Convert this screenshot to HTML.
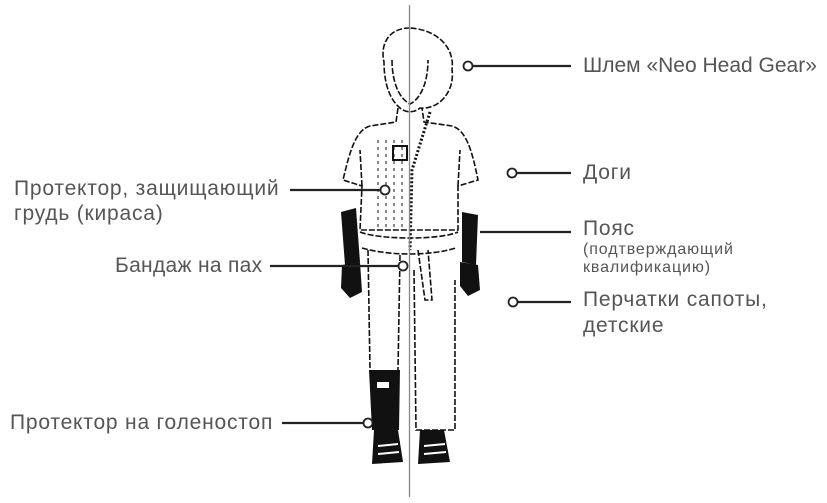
<!DOCTYPE html>
<html><head><meta charset="utf-8"><style>
html,body{margin:0;padding:0;background:#fff;}
body{width:827px;height:503px;position:relative;overflow:hidden;font-family:"Liberation Sans",sans-serif;color:#555;}
.t{position:absolute;font-size:21px;letter-spacing:0.8px;white-space:nowrap;line-height:24px;}
.s{position:absolute;font-size:16px;letter-spacing:0.9px;white-space:nowrap;line-height:18px;}
svg{position:absolute;left:0;top:0;}
</style></head><body>
<svg width="827" height="503" viewBox="0 0 827 503">
<g fill="none" stroke="#111" stroke-width="1.6" stroke-dasharray="6 2">
<path d="M410 28 C388 28 380 45 384 62 C384 80 388 98 400 108 C406 113 414 113 420 108 C440 110 455 90 452 70 C455 50 440 30 410 28 Z"/>
<path d="M392 60 C392 80 398 98 410 104 C422 98 428 80 428 60"/>
<path d="M398 108 L396 122 L370 126 C356 130 350 150 343 180 L362 186 L360 230 L458 230 L458 186 L478 180 C472 150 466 130 452 126 L424 122 L422 108"/>
<path d="M362 186 L360 150 M458 186 L460 150"/>
<path d="M378 140 L378 230 M386 140 L386 230 M394 140 L394 230 M402 140 L402 230" stroke-width="1" stroke-dasharray="3 4"/>
<path d="M430 112 L412 170 L410 250" stroke-width="3" stroke-dasharray="2 2"/>
<path d="M360 232 C380 240 440 240 458 232 M362 248 C390 256 430 256 456 248"/>
<path d="M418 250 L425 300 L432 300 L428 250"/>
<path d="M368 250 L370 370 M400 255 L398 370"/>
<path d="M414 270 L416 430 L455 430 L455 280"/>
</g>
<g fill="#111">
<rect x="393" y="146" width="14" height="14" fill="none" stroke="#111" stroke-width="2"/>
<path d="M341 212 L356 208 L360 262 L345 265 Z"/>
<path d="M462 212 L478 215 L476 265 L462 262 Z"/>
<path d="M342 265 L360 262 L362 292 L350 298 L341 288 Z"/>
<path d="M460 262 L478 265 L480 290 L468 296 L460 286 Z"/>
<path d="M369 370 L400 370 L399 430 L372 430 Z"/>
<rect x="377" y="382" width="12" height="6" fill="#fff"/>
<path d="M374 430 L398 430 L403 462 L372 464 Z"/>
<path d="M420 430 L444 430 L450 462 L418 464 Z"/>
</g>
<g fill="none" stroke="#fff" stroke-width="2">
<path d="M378 446 L398 444 M378 454 L399 452 M424 446 L445 444 M424 454 L446 452"/>
</g>
<line x1="409.5" y1="5" x2="409.5" y2="497" stroke="#888" stroke-width="1.3"/>
<g stroke="#222" stroke-width="2.2" fill="#fff">
<line x1="473" y1="66" x2="571" y2="66"/><circle cx="468" cy="66" r="4.5" stroke-width="1.8"/>
<line x1="517" y1="173" x2="571" y2="173"/><circle cx="512" cy="173" r="4.5" stroke-width="1.8"/>
<line x1="480" y1="232" x2="571" y2="232"/>
<line x1="518" y1="302" x2="571" y2="302"/><circle cx="513" cy="302" r="4.5" stroke-width="1.8"/>
<line x1="290" y1="190" x2="380" y2="190"/><circle cx="385" cy="190" r="4.5" stroke-width="1.8"/>
<line x1="270" y1="266" x2="398" y2="266"/><circle cx="403" cy="266" r="4.5" stroke-width="1.8"/>
<line x1="282" y1="423" x2="363" y2="423"/><circle cx="368" cy="423" r="4.5" stroke-width="1.8"/>
</g>
</svg>
<div class="t" style="left:583px;top:54px;letter-spacing:0">Шлем «Neo Head Gear»</div>
<div class="t" style="left:583px;top:161px">Доги</div>
<div class="t" style="left:583px;top:217px">Пояс</div>
<div class="s" style="left:583px;top:241px">(подтверждающий</div>
<div class="s" style="left:583px;top:259px">квалификацию)</div>
<div class="t" style="left:583px;top:288px">Перчатки сапоты,</div>
<div class="t" style="left:583px;top:314px">детские</div>
<div class="t" style="left:14px;top:177px">Протектор, защищающий</div>
<div class="t" style="left:14px;top:202px">грудь (кираса)</div>
<div class="t" style="left:115px;top:254px;letter-spacing:0.3px">Бандаж на пах</div>
<div class="t" style="left:10px;top:411px">Протектор на голеностоп</div>
</body></html>
